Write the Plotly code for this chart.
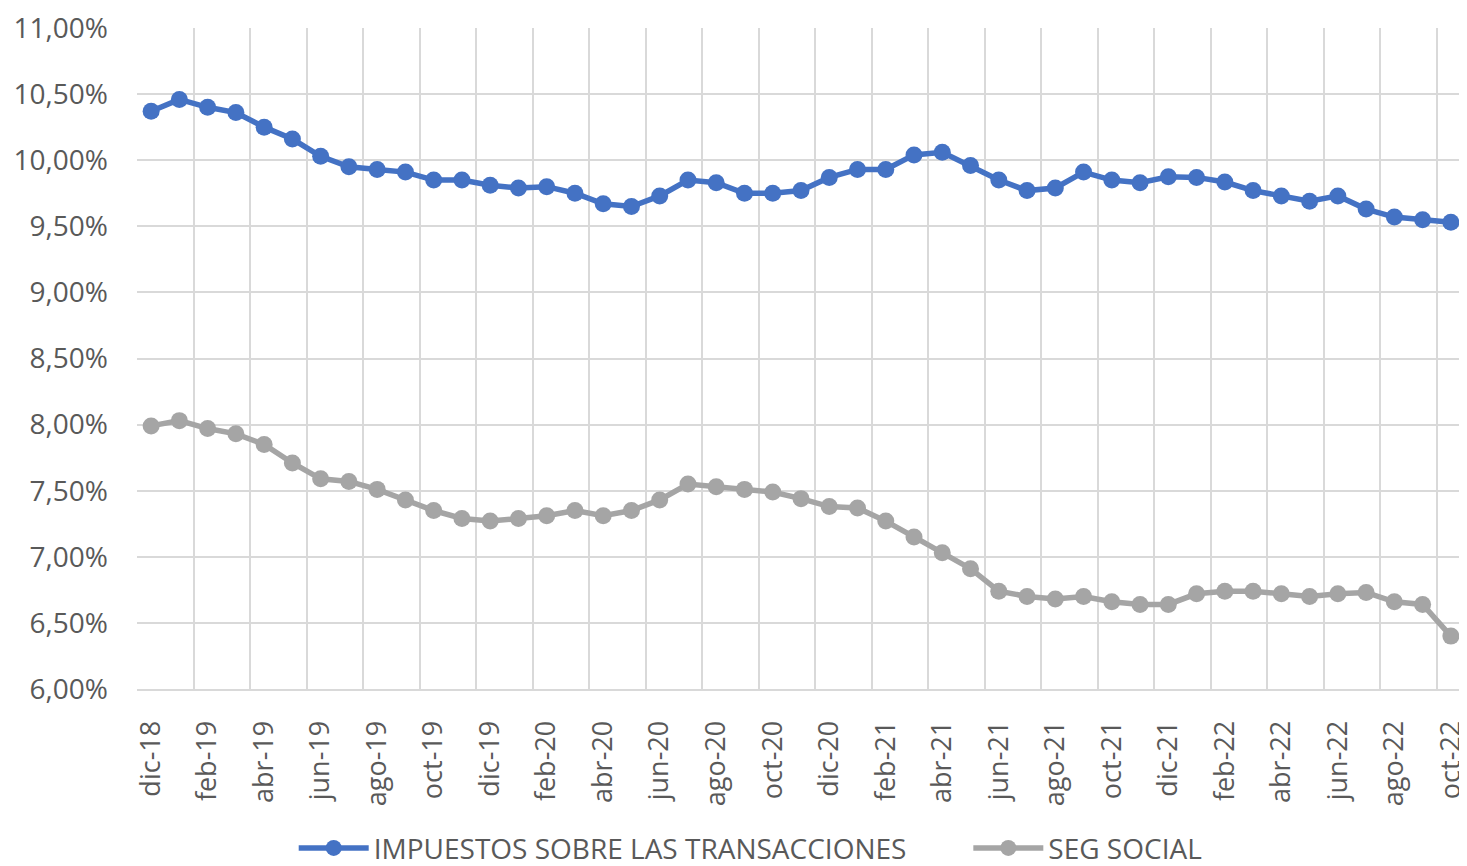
import plotly.graph_objects as go

months = ["dic-18","ene-19","feb-19","mar-19","abr-19","may-19","jun-19","jul-19","ago-19","sep-19","oct-19","nov-19",
          "dic-19","ene-20","feb-20","mar-20","abr-20","may-20","jun-20","jul-20","ago-20","sep-20","oct-20","nov-20",
          "dic-20","ene-21","feb-21","mar-21","abr-21","may-21","jun-21","jul-21","ago-21","sep-21","oct-21","nov-21",
          "dic-21","ene-22","feb-22","mar-22","abr-22","may-22","jun-22","jul-22","ago-22","sep-22","oct-22"]

impuestos = [10.37, 10.46, 10.40, 10.36, 10.25, 10.16, 10.03, 9.95, 9.93, 9.91, 9.85, 9.85,
             9.81, 9.79, 9.80, 9.75, 9.67, 9.65, 9.73, 9.85, 9.83, 9.75, 9.75, 9.77,
             9.87, 9.93, 9.93, 10.04, 10.06, 9.96, 9.85, 9.77, 9.79, 9.91, 9.85, 9.83,
             9.875, 9.87, 9.835, 9.77, 9.73, 9.69, 9.73, 9.63, 9.57, 9.55, 9.53]

seg_social = [7.99, 8.03, 7.97, 7.93, 7.85, 7.71, 7.59, 7.57, 7.51, 7.43, 7.35, 7.29,
              7.27, 7.29, 7.31, 7.35, 7.31, 7.35, 7.43, 7.55, 7.53, 7.51, 7.49, 7.44,
              7.38, 7.37, 7.27, 7.15, 7.03, 6.91, 6.74, 6.70, 6.68, 6.70, 6.66, 6.64,
              6.64, 6.72, 6.74, 6.74, 6.72, 6.70, 6.72, 6.73, 6.66, 6.64, 6.40]

y_ticks_pct = [6.0, 6.5, 7.0, 7.5, 8.0, 8.5, 9.0, 9.5, 10.0, 10.5, 11.0]

series_names = ["IMPUESTOS SOBRE LAS TRANSACCIONES", "SEG SOCIAL"]
colors = ["#4472C4", "#A5A5A5"]
legend_ids = ["legend", "legend2"]

fig = go.Figure()
for name, vals, col, lg in zip(series_names, [impuestos, seg_social], colors, legend_ids):
    fig.add_trace(go.Scatter(
        x=months, y=[v / 100 for v in vals], name=name, mode="lines+markers",
        line=dict(color=col, width=5.5), marker=dict(color=col, size=17),
        legend=lg,
    ))

font_family = "Open Sans"
legend_common = dict(orientation="h", xanchor="left", y=-0.203, yanchor="top", itemwidth=70,
                     font=dict(size=28, color="#595959"), bgcolor="rgba(0,0,0,0)")
fig.update_layout(
    width=1459, height=858,
    margin=dict(l=129, r=2, t=20, b=177, autoexpand=False),
    paper_bgcolor="white", plot_bgcolor="white",
    separators=",.",
    font=dict(family=font_family, color="#595959", size=26),
    showlegend=True,
    legend=dict(x=0.118, **legend_common),
    legend2=dict(x=0.626, **legend_common),
)
fig.update_xaxes(
    type="category", tickmode="linear", tick0=0, dtick=2, tickson="boundaries",
    tickangle=-90, showgrid=True, gridcolor="#D9D9D9", gridwidth=2,
    showline=True, linecolor="#D9D9D9", linewidth=2, ticks="", ticklabelstandoff=19,
    tickfont=dict(size=27, color="#595959"), range=[-0.5, 46.5], automargin=False,
    ticklabeloverflow="allow",
)
fig.update_yaxes(
    range=[0.06, 0.1100001], tickmode="array", tickvals=[v / 100 for v in y_ticks_pct],
    tickformat=".2%",
    showgrid=True, gridcolor="#D9D9D9", gridwidth=2, zeroline=False,
    showline=False, ticks="", ticklabelstandoff=28, automargin=False,
    tickfont=dict(size=28, color="#595959"), ticklabeloverflow="allow",
)
fig.write_html("out.html")
